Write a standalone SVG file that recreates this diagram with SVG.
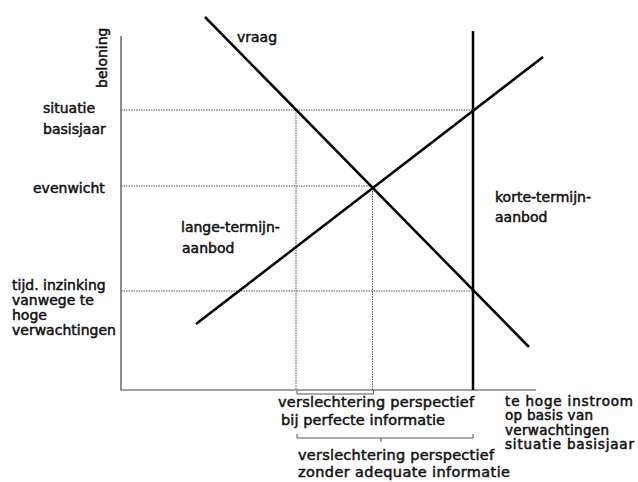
<svg xmlns="http://www.w3.org/2000/svg" width="638" height="482" viewBox="0 0 638 482">
<style>
text{font-family:"DejaVu Sans","Liberation Sans",sans-serif;font-size:14px;fill:#111;stroke:#111;stroke-width:0.5}
.b{font-size:14.5px}
.s{font-size:13.5px;stroke-width:0.55}
.axis{stroke:#444;stroke-width:1.2;fill:none}
.dot{stroke:#555;stroke-width:1;stroke-dasharray:1.5,1;fill:none}
.curve{stroke:#000;stroke-width:2.5;fill:none}
.brk{stroke:#555;stroke-width:1;fill:none}
</style>
<rect width="638" height="482" fill="#fff"/>
<g id="connectors">
<path class="dot" d="M121,110H473M121,186H372.5M121,291H473M296,110V390M372.5,186V390"/>
<path class="axis" d="M121,36V390H536"/>
<path class="curve" d="M205,17L529,347"/>
<path class="curve" d="M196,324L543,57"/>
<path class="curve" stroke-width="3" d="M473,31V390"/>
<path class="brk" d="M297,390V394H373.5V390"/>
<path class="brk" d="M297,434V438H473V434M381,438V442"/>
</g>
<g id="y-axis-label"><text transform="translate(107,88) rotate(-90)">beloning</text></g>
<g id="vraag"><text x="237" y="42">vraag</text></g>
<g id="situatie-basisjaar"><text x="43" y="113">situatie</text><text x="43" y="134">basisjaar</text></g>
<g id="evenwicht"><text x="33" y="193">evenwicht</text></g>
<g id="lange-termijn-aanbod"><text x="181" y="232">lange-termijn-</text><text x="182" y="253">aanbod</text></g>
<g id="korte-termijn-aanbod"><text x="495" y="202">korte-termijn-</text><text x="495" y="222">aanbod</text></g>
<g id="tijd-inzinking"><text x="12" y="290">tijd. inzinking</text><text x="12" y="305">vanwege te</text><text x="12" y="320">hoge</text><text x="12" y="335">verwachtingen</text></g>
<g id="perfecte-informatie"><text class="b" x="278" y="407" textLength="196" lengthAdjust="spacing">verslechtering perspectief</text><text class="b" x="281" y="425" textLength="164" lengthAdjust="spacing">bij perfecte informatie</text></g>
<g id="zonder-informatie"><text class="b" x="298" y="460" textLength="196" lengthAdjust="spacing">verslechtering perspectief</text><text class="b" x="298" y="477" textLength="212" lengthAdjust="spacing">zonder adequate informatie</text></g>
<g id="te-hoge-instroom"><text class="s" x="505" y="405.5" textLength="128" lengthAdjust="spacing">te hoge instroom</text><text class="s" x="505" y="420" textLength="88" lengthAdjust="spacing">op basis van</text><text class="s" x="505" y="434.5" textLength="104" lengthAdjust="spacing">verwachtingen</text><text class="s" x="505" y="449" textLength="129" lengthAdjust="spacing">situatie basisjaar</text></g>
</svg>
